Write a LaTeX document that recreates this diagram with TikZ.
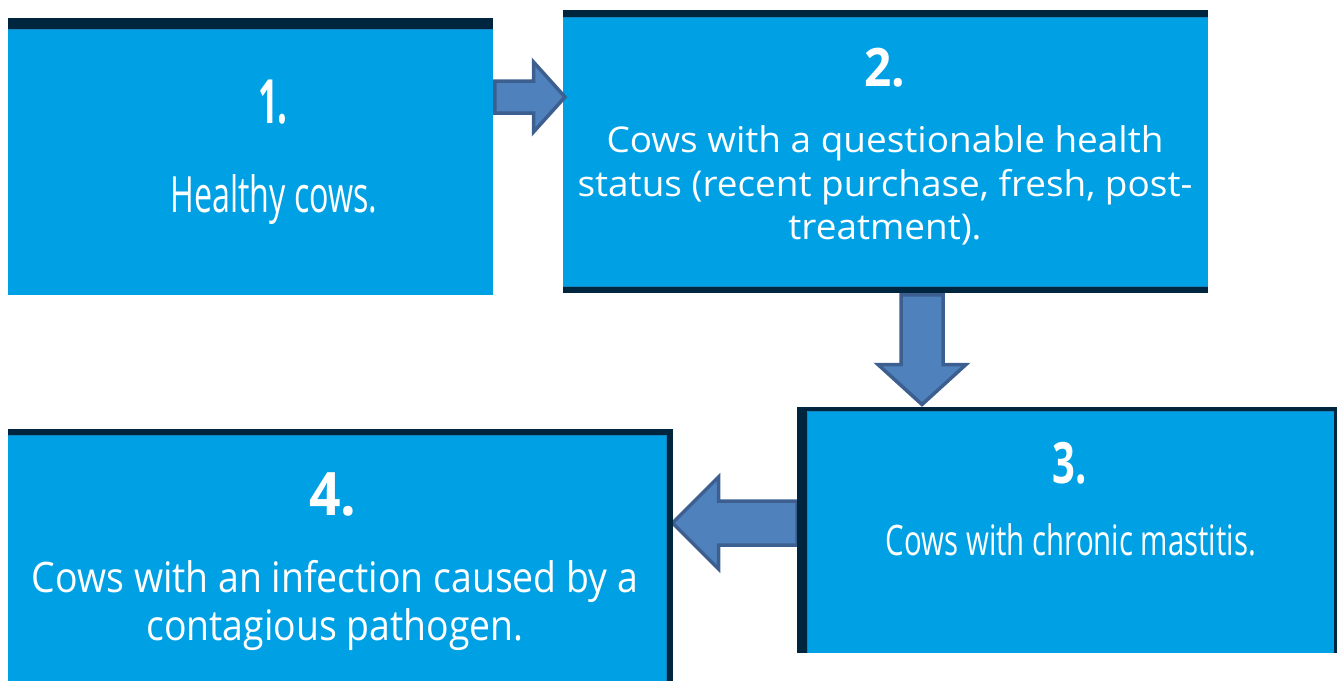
\documentclass[tikz,border=0pt]{standalone}
\usepackage{fontspec}
\setmainfont{Open Sans}
\newfontfamily\fAt[FakeStretch=0.645]{Open Sans}
\newfontfamily\fAn[FakeStretch=0.57]{Open Sans}
\newfontfamily\fBt[FakeStretch=1.04]{Open Sans}
\newfontfamily\fBn[FakeStretch=0.9]{Open Sans}
\newfontfamily\fCt[FakeStretch=0.7]{Open Sans}
\newfontfamily\fCn[FakeStretch=0.7]{Open Sans}
\newfontfamily\fDt[FakeStretch=0.89]{Open Sans}
\newfontfamily\fDn[FakeStretch=0.92]{Open Sans}
\usetikzlibrary{calc}
\definecolor{boxblue}{HTML}{00A1E4}
\definecolor{bandcol}{HTML}{00263F}
\definecolor{edgeblue}{HTML}{1484BE}
\definecolor{arrfill}{HTML}{4F81BD}
\definecolor{arrline}{HTML}{3C5F8F}
\begin{document}
\begin{tikzpicture}[x=1pt,y=-1pt,
  box/.style={fill=boxblue, draw=none, inner sep=0pt, outer sep=0pt, anchor=north west},
  bandfill/.style={fill=bandcol, draw=none},
  edgeline/.style={draw=edgeblue, line width=1.5pt},
  blockarrow/.style={fill=arrfill, draw=arrline, line width=3.5pt, line join=miter},
  lbl/.style={text=white, anchor=base, inner sep=0pt, outer sep=0pt}]

\useasboundingbox (0,0) rectangle (1339,681);

% boxes
\node[box, minimum width=485pt, minimum height=277pt] (b1) at (8,18) {};
\node[box, minimum width=645pt, minimum height=283pt] (b2) at (563,10) {};
\node[box, minimum width=540pt, minimum height=246pt] (b3) at (797,407) {};
\node[box, minimum width=665pt, minimum height=252pt] (b4) at (8,429) {};

% block arrows (connectors)
\coordinate (a12s) at ($(b1.north east)+(0,79)$);
\draw[blockarrow] ($(a12s)+(1.75,-16)$) -- ($(a12s)+(40.5,-16)$) -- ($(a12s)+(40.5,-35)$)
  -- ($(a12s)+(72,0)$) -- ($(a12s)+(40.5,35)$) -- ($(a12s)+(40.5,16)$) -- ($(a12s)+(1.75,16)$) -- cycle;

\coordinate (a23t) at ($(b3.north west)+(125,0)$);
\coordinate (a23s) at (a23t |- b2.south);
\draw[blockarrow] ($(a23s)+(-21,1.75)$) -- ($(a23s)+(-21,71.5)$) -- ($(a23s)+(-44,71.5)$)
  -- ($(a23s)+(0,111.5)$) -- ($(a23s)+(44,71.5)$) -- ($(a23s)+(21,71.5)$) -- ($(a23s)+(21,1.75)$) -- cycle;

\coordinate (a34s) at ($(b3.north west)+(0,116)$);
\draw[blockarrow] ($(a34s)+(0,-22)$) -- ($(a34s)+(-78.5,-22)$) -- ($(a34s)+(-78.5,-46)$)
  -- ($(a34s)+(-124.5,0)$) -- ($(a34s)+(-78.5,46)$) -- ($(a34s)+(-78.5,22)$) -- ($(a34s)+(0,22)$) -- cycle;

% dark bands
\fill[bandfill] (b1.north west) rectangle ($(b1.north east)+(0,11)$);
\draw[edgeline] ($(b1.north west)+(0,11.5)$) -- ($(b1.north east)+(0,11.5)$);

\fill[bandfill] (b2.north west) rectangle ($(b2.north east)+(0,7)$);
\draw[edgeline] ($(b2.north west)+(0,7.5)$) -- ($(b2.north east)+(0,7.5)$);
\fill[bandfill] ($(b2.south west)+(0,-6)$) rectangle (b2.south east);
\draw[edgeline] ($(b2.south west)+(0,-6.5)$) -- ($(b2.south east)+(0,-6.5)$);

\fill[bandfill] (b3.north west) rectangle ($(b3.north east)+(0,4)$);
\fill[bandfill] (b3.north west) rectangle ($(b3.south west)+(10,0)$);
\fill[bandfill] ($(b3.north east)+(-3,0)$) rectangle (b3.south east);
\draw[edgeline] ($(b3.north west)+(10.5,4.5)$) -- ($(b3.north east)+(-3.5,4.5)$);
\draw[edgeline] ($(b3.north west)+(10.5,4.5)$) -- ($(b3.south west)+(10.5,0)$);

\fill[bandfill] (b4.north west) rectangle ($(b4.north east)+(0,6)$);
\fill[bandfill] ($(b4.north east)+(-6,0)$) rectangle (b4.south east);
\draw[edgeline] ($(b4.north west)+(0,6.5)$) -- ($(b4.north east)+(-6.5,6.5)$) -- ($(b4.south east)+(-6.5,0)$);

% texts
\node[lbl, font={\fontsize{61}{61}\fAn\bfseries}] (n1) at (273,123) {1.};
\node[lbl, font={\fontsize{50}{50}\fAt}] (t1) at (274,212) {Healthy cows.};

\node[lbl, font={\fontsize{53}{53}\fBn\bfseries}] (n2) at (885,86) {2.};
\node[lbl, font={\fontsize{35.5}{35.5}\fBt}] (t2a) at (885,152) {Cows with a questionable health};
\node[lbl, font={\fontsize{35.5}{35.5}\fBt}] (t2b) at (885,196) {status (recent purchase, fresh, post-};
\node[lbl, font={\fontsize{35.5}{35.5}\fBt}] (t2c) at (885,239) {treatment).};

\node[lbl, font={\fontsize{57}{57}\fCn\bfseries}] (n3) at (1070,483) {3.};
\node[lbl, font={\fontsize{42}{42}\fCt}] (t3) at (1071,555) {Cows with chronic mastitis.};

\node[lbl, font={\fontsize{60}{60}\fDn\bfseries}] (n4) at (333,515) {4.};
\node[lbl, font={\fontsize{42}{42}\fDt}] (t4a) at (335,592) {Cows with an infection caused by a};
\node[lbl, font={\fontsize{42}{42}\fDt}] (t4b) at (335,640) {contagious pathogen.};
\end{tikzpicture}
\end{document}
